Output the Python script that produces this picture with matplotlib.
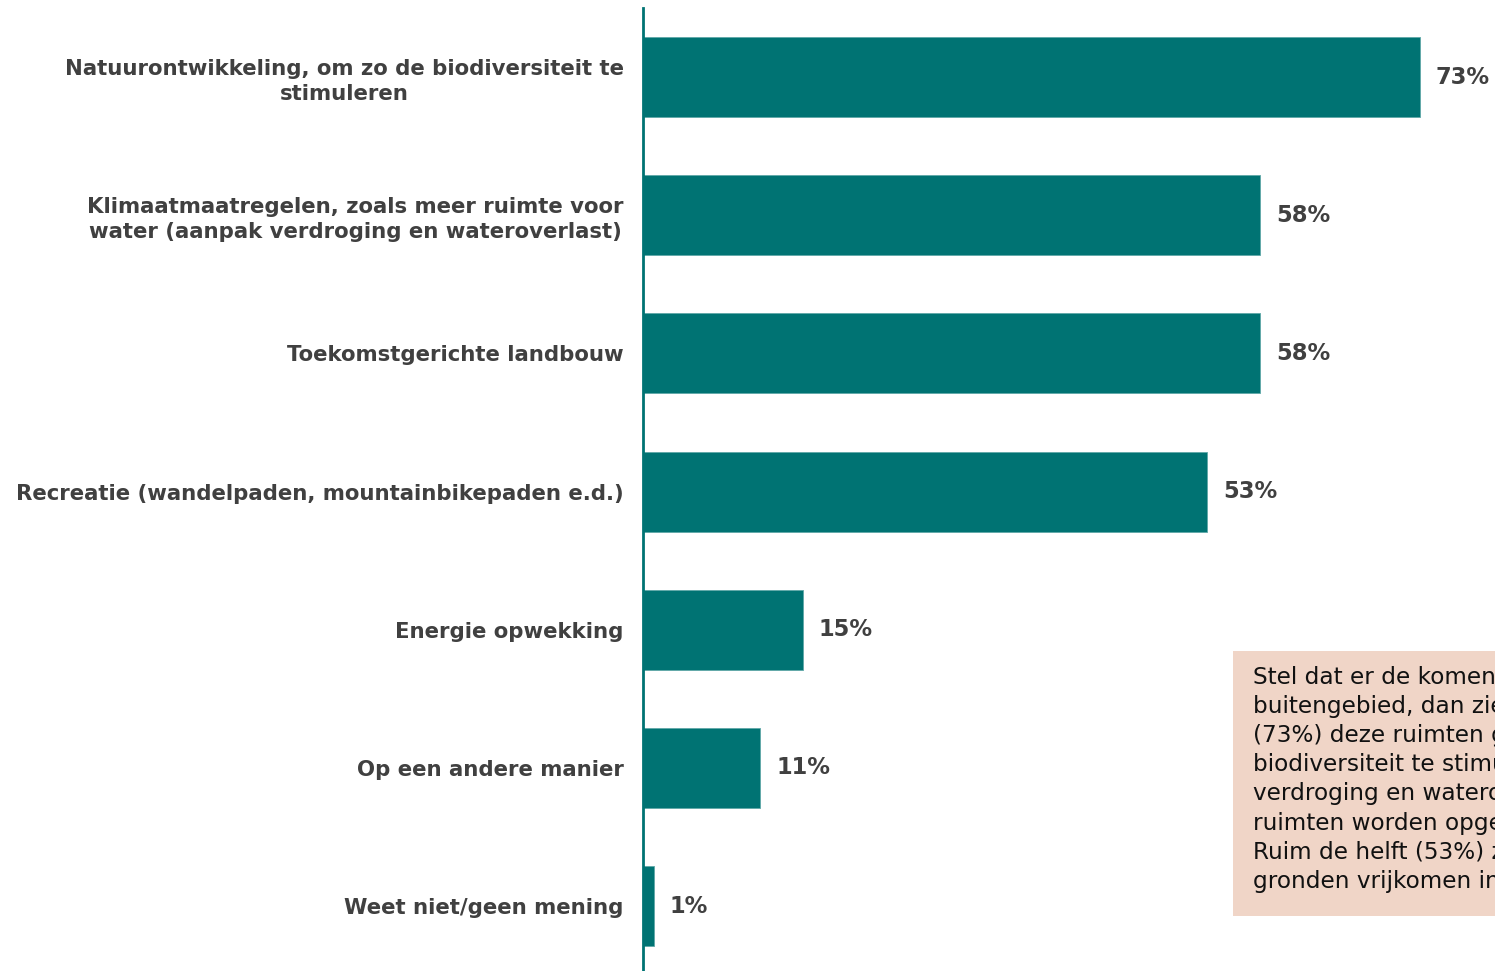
import matplotlib
matplotlib.use("Agg")
import matplotlib.pyplot as plt
from matplotlib.patches import Rectangle

categories = [
    "Natuurontwikkeling, om zo de biodiversiteit te\nstimuleren",
    "Klimaatmaatregelen, zoals meer ruimte voor\nwater (aanpak verdroging en wateroverlast)",
    "Toekomstgerichte landbouw",
    "Recreatie (wandelpaden, mountainbikepaden e.d.)",
    "Energie opwekking",
    "Op een andere manier",
    "Weet niet/geen mening",
]
values = [73, 58, 58, 53, 15, 11, 1]
value_labels = ["73%", "58%", "58%", "53%", "15%", "11%", "1%"]

note_lines = [
    "Stel dat er de komende jaren ruimten vrijkomen in het",
    "buitengebied, dan zien de meeste inwoners",
    "(73%) deze ruimten graag ingezet voor",
    "biodiversiteit te stimuleren. Ook de aanpak van",
    "verdroging en wateroverlast zien zij graag als",
    "ruimten worden opgepakt.",
    "Ruim de helft (53%) ziet graag recreatie als",
    "gronden vrijkomen in het buitengebied.",
]

BAR = "#007373"
TXT = "#404040"

W, H = 1495, 971
fig = plt.figure(figsize=(W / 100, H / 100), dpi=100)
ax = fig.add_axes([643 / W, 0, 1 - 643 / W, 1 - 8 / H])

y = list(range(len(categories)))
ax.barh(y, values, height=0.58, color=BAR, edgecolor="#5fa8a8", linewidth=0.6)
ax.set_ylim(len(categories) - 0.53, -0.5)
ax.set_xlim(0, (W - 643) / 10.64)

for yi, v, lab in zip(y, values, value_labels):
    ax.annotate(lab, (v, yi), xytext=(16, 0), textcoords="offset pixels",
                ha="left", va="center", fontsize=16.3, fontweight="bold", color=TXT)

ax.set_yticks(y)
ax.set_yticklabels(categories, fontsize=15.3, fontweight="bold", color=TXT,
                   ha="right", multialignment="center", linespacing=1.3)
ax.tick_params(axis="y", length=0, pad=14)
ax.set_xticks([])
for s in ["top", "right", "bottom"]:
    ax.spines[s].set_visible(False)
ax.spines["left"].set_color(BAR)
ax.spines["left"].set_linewidth(2)

# note box
fig.patches.append(Rectangle((1233 / W, 1 - 916 / H), (W - 1233) / W + 0.05, (916 - 651) / H,
                             transform=fig.transFigure, facecolor="#F0D5C7", edgecolor="none",
                             zorder=3))
fig.text(1253 / W, 1 - 666 / H, "\n".join(note_lines), ha="left", va="top",
         fontsize=16.7, color="#111111", linespacing=1.34, zorder=4)

fig.savefig("out.png", dpi=100)
